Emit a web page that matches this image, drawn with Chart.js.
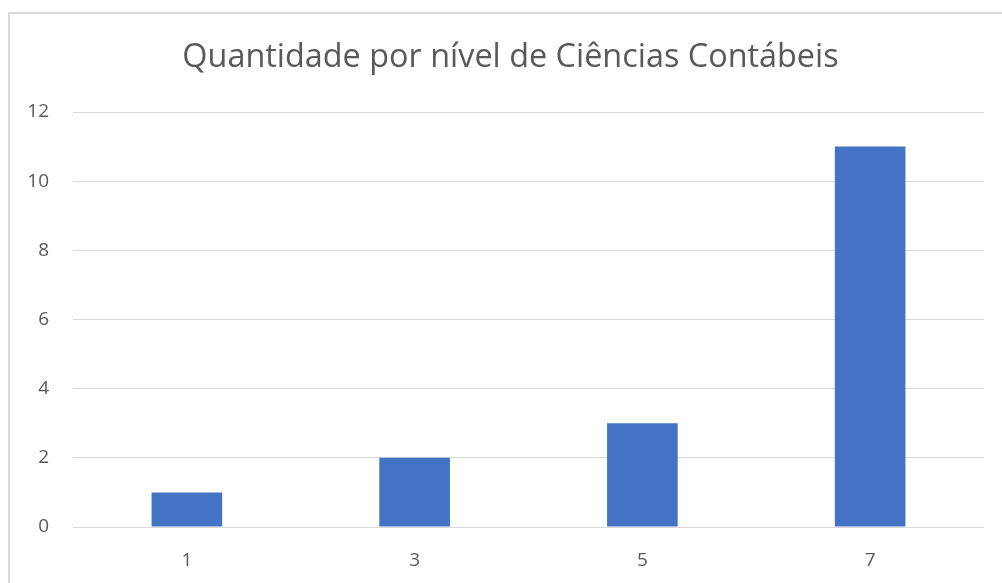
<!DOCTYPE html>
<html>
<head>
<meta charset="utf-8">
<script src="https://cdn.jsdelivr.net/npm/chart.js@4.4.1/dist/chart.umd.min.js"></script>
<style>
html,body{margin:0;padding:0;background:#fff;}
#wrap{position:absolute;left:0;top:0;width:1002px;height:583px;}
</style>
</head>
<body>
<div id="wrap"><canvas id="c" width="1002" height="583"></canvas></div>
<script>
const categories = ['1', '3', '5', '7'];
const values = [1, 2, 3, 11];
const yTicks = [0, 2, 4, 6, 8, 10, 12];
const titleText = 'Quantidade por nível de Ciências Contábeis';

const FONT = '"Open Sans", "Noto Sans", sans-serif';
const TEXT = '#595959';

const frame = {
  id: 'frame',
  beforeDraw(chart) {
    const ctx = chart.ctx;
    ctx.save();
    ctx.fillStyle = '#fff';
    ctx.fillRect(0, 0, chart.width, chart.height);
    ctx.strokeStyle = '#d9d9d9';
    ctx.lineWidth = 2;
    ctx.beginPath();
    ctx.moveTo(9, chart.height);
    ctx.lineTo(9, 13);
    ctx.lineTo(chart.width, 13);
    ctx.stroke();
    ctx.restore();
  },
  afterDraw(chart) {
    const ctx = chart.ctx;
    ctx.save();
    ctx.fillStyle = TEXT;
    ctx.font = '32.4px ' + FONT;
    ctx.textAlign = 'center';
    ctx.textBaseline = 'middle';
    ctx.fillText(titleText, 510.5, 58);
    ctx.restore();
  }
};

new Chart(document.getElementById('c'), {
  type: 'bar',
  data: {
    labels: categories,
    datasets: [{
      data: values,
      backgroundColor: '#4472C4',
      borderWidth: 0,
      categoryPercentage: 1,
      barPercentage: 0.31
    }]
  },
  options: {
    responsive: false,
    animation: false,
    layout: { padding: { left: 0, right: 18, top: 112, bottom: 0 } },
    plugins: {
      legend: { display: false },
      tooltip: { enabled: false },
      title: { display: false }
    },
    scales: {
      x: {
        grid: { display: false },
        border: { display: false },
        ticks: { color: TEXT, font: { family: FONT, size: 19 }, padding: 14 },
        afterFit(s) { s.height = 56; }
      },
      y: {
        min: 0, max: 12,
        afterBuildTicks(s) { s.ticks = yTicks.map(v => ({ value: v })); },
        grid: { color: '#d9d9d9', lineWidth: 1, drawTicks: false },
        border: { display: false },
        ticks: { color: TEXT, font: { family: FONT, size: 19 }, padding: 24 },
        afterFit(s) { s.width = 73; }
      }
    }
  },
  plugins: [frame]
});
</script>
</body>
</html>
